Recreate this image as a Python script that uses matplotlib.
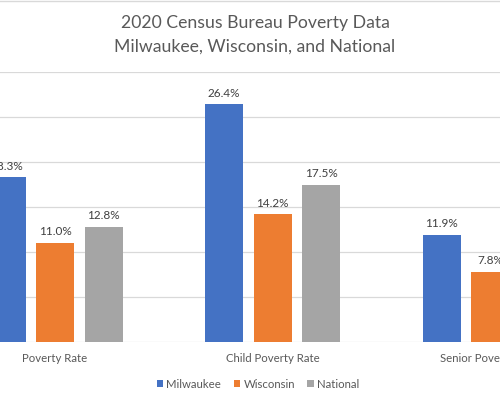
import numpy as np
import matplotlib
matplotlib.use("Agg")
import matplotlib.pyplot as plt
from matplotlib.lines import Line2D

# ── data ──────────────────────────────────────────────────────────
categories = ["Poverty Rate", "Child Poverty Rate", "Senior Poverty Rate"]
series = ["Milwaukee", "Wisconsin", "National"]
milwaukee = [18.3, 26.4, 11.9]
wisconsin = [11.0, 14.2, 7.8]
national = [12.8, 17.5, 9.0]
colors = ["#4472C4", "#ED7D31", "#A5A5A5"]

# ── layout (the reference is a crop of a wider chart) ─────────────
W, H = 500, 395
plt.rcParams["font.family"] = ["Lato", "DejaVu Sans"]
fig = plt.figure(figsize=(W / 100, H / 100), dpi=100)

base_px, top_px = 342, 72            # y of 0% and 30%
group_px, x0_px = 217.5, 55          # group pitch, centre of first group
ax = fig.add_axes([0, (H - base_px) / H, 1, (base_px - top_px) / H])
ax.set_xlim(-x0_px / group_px, (W - x0_px) / group_px)
ax.set_ylim(0, 30)

width = 38 / group_px
step = 48.5 / group_px
x = np.arange(len(categories))
for i, (name, vals) in enumerate(zip(series, [milwaukee, wisconsin, national])):
    bars = ax.bar(x + (i - 1) * step, vals, width, color=colors[i], label=name, zorder=3)
    ax.bar_label(bars, labels=[f"{v:.1f}%" for v in vals], padding=4,
                 fontsize=8.5, color="#404040")

ax.set_yticks(np.arange(0, 31, 5))
ax.set_yticklabels([])
ax.grid(axis="y", color="#D9D9D9", lw=0.9, zorder=0)
ax.tick_params(length=0)
ax.set_xticks(x)
ax.set_xticklabels(categories, fontsize=8.2, color="#595959")
ax.tick_params(axis="x", pad=8)
for s in ax.spines.values():
    s.set_visible(False)

fig.text(0.51, 1 - 23 / H, "2020 Census Bureau Poverty Data", ha="center", va="center",
         fontsize=12.7, color="#595959")
fig.text(0.51, 1 - 47 / H, "Milwaukee, Wisconsin, and National", ha="center", va="center",
         fontsize=12.7, color="#595959")

fig.legend(loc="center", bbox_to_anchor=(0.516, 1 - 384 / H), ncol=3, frameon=False,
           fontsize=8.2, handlelength=0.55, handleheight=0.55, handletextpad=0.3,
           columnspacing=1.1, labelcolor="#595959")

fig.add_artist(Line2D([0, 1], [1 - 0.6 / H, 1 - 0.6 / H], transform=fig.transFigure,
                      color="#D9D9D9", lw=1))

fig.savefig("out.png", dpi=100)
